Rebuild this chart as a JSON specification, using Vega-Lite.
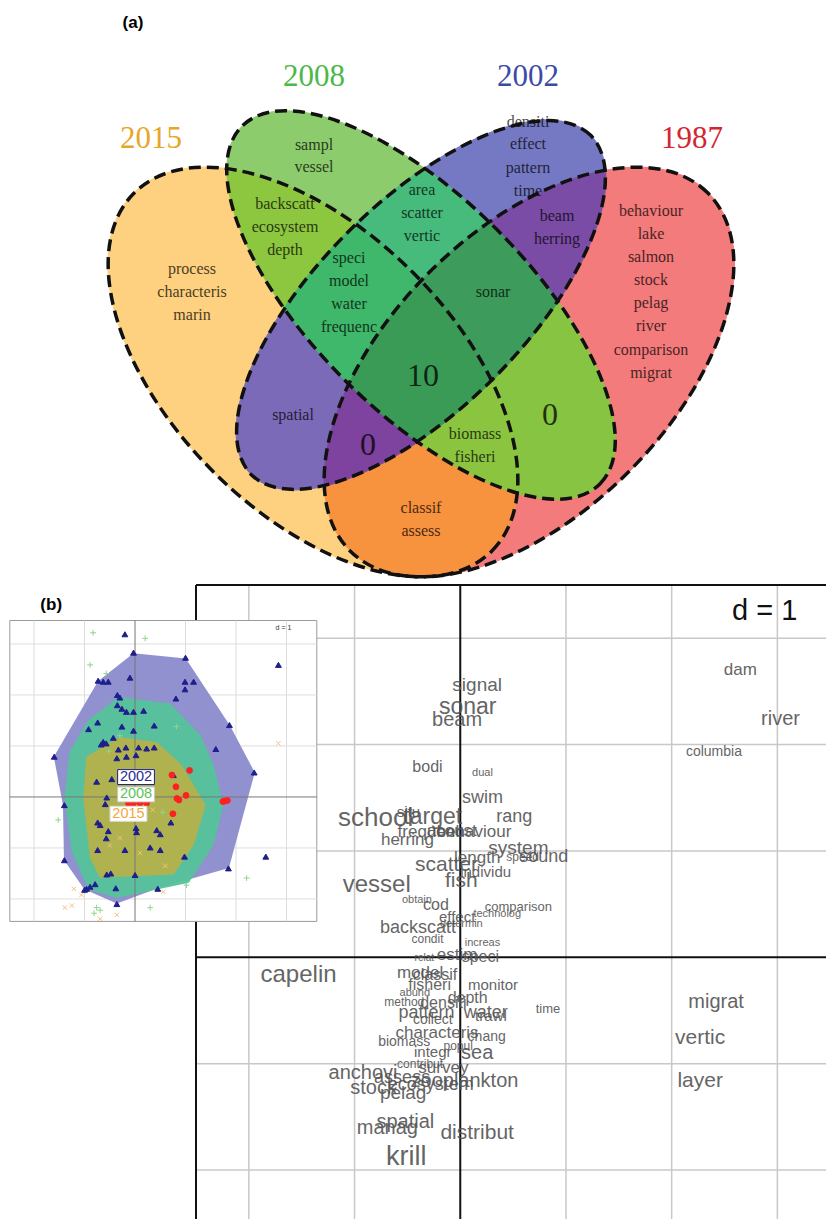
{
  "$schema": "https://vega.github.io/schema/vega-lite/v6.json",
  "background": "white",
  "padding": 0,
  "spacing": 0,
  "bounds": "flush",
  "config": {"view": {"stroke": null}},
  "vconcat": [
    {
      "width": 826,
      "height": 585,
      "resolve": {"scale": {"shape": "independent", "fill": "independent", "stroke": "independent", "color": "independent"}},
      "layer": [
        {
          "data": {"values": [{"region": "A"}, {"region": "B"}, {"region": "C"}, {"region": "D"}, {"region": "AB"}, {"region": "AC"}, {"region": "AD"}, {"region": "BC"}, {"region": "BD"}, {"region": "CD"}, {"region": "ABC"}, {"region": "ABD"}, {"region": "ACD"}, {"region": "BCD"}, {"region": "ABCD"}]},
          "mark": {"type": "point", "filled": true, "size": 40000, "opacity": 1, "strokeWidth": 1},
          "encoding": {
            "x": {"datum": 0, "type": "quantitative", "scale": {"domain": [-4.21, 4.05], "zero": false, "nice": false}, "axis": null},
            "y": {"datum": 0, "type": "quantitative", "scale": {"domain": [-2.8, 3.05], "zero": false, "nice": false}, "axis": null},
            "shape": {"field": "region", "type": "nominal", "legend": null, "scale": {
              "domain": ["A", "B", "C", "D", "AB", "AC", "AD", "BC", "BD", "CD", "ABC", "ABD", "ACD", "BCD", "ABCD"],
              "range": [
                "M-1.942 -1.364 A2.53 1.41 45 1 0 0 2.717 A2.53 1.41 -45 0 1 -0.967 1.812 A2.4 1.04 -45 0 1 -1.371 0.032 A2.53 1.07 45 0 1 -1.942 -1.364 Z",
                "M0.032 -1.371 A2.53 1.07 45 0 0 -1.942 -1.364 A2.53 1.41 45 0 1 -0.658 -0.812 A2.4 1.04 -45 0 1 0.032 -1.371 Z",
                "M0.682 -0.83 A2.53 1.07 45 0 0 0.032 -1.371 A2.4 1.04 -45 0 1 1.846 -1.348 A2.53 1.41 -45 0 0 0.682 -0.83 Z",
                "M0 2.717 A2.53 1.41 45 0 0 0.965 1.884 A2.53 1.07 45 0 0 1.371 -0.032 A2.4 1.04 -45 0 0 1.846 -1.348 A2.53 1.41 -45 1 1 0 2.717 Z",
                "M-1.942 -1.364 A2.53 1.41 45 0 1 -0.658 -0.812 A2.4 1.04 -45 0 0 -1.371 0.032 A2.53 1.07 45 0 1 -1.942 -1.364 Z",
                "M-1.371 0.032 A2.53 1.07 45 0 0 -0.722 0.791 A2.53 1.41 -45 0 0 -0.967 1.812 A2.4 1.04 -45 0 1 -1.371 0.032 Z",
                "M0 2.717 A2.53 1.41 45 0 0 0.965 1.884 A2.53 1.07 45 0 1 -0.032 1.371 A2.4 1.04 -45 0 1 -0.967 1.812 A2.53 1.41 -45 0 0 0 2.717 Z",
                "M0 -0.243 A2.53 1.41 45 0 0 -0.658 -0.812 A2.4 1.04 -45 0 1 0.032 -1.371 A2.53 1.07 45 0 1 0.682 -0.83 A2.53 1.41 -45 0 0 0 -0.243 Z",
                "M0.965 1.884 A2.53 1.41 45 0 0 0.709 0.762 A2.4 1.04 -45 0 0 1.371 -0.032 A2.53 1.07 45 0 1 0.965 1.884 Z",
                "M1.371 -0.032 A2.53 1.07 45 0 0 0.682 -0.83 A2.53 1.41 -45 0 1 1.846 -1.348 A2.4 1.04 -45 0 1 1.371 -0.032 Z",
                "M0 -0.243 A2.53 1.41 45 0 0 -0.658 -0.812 A2.4 1.04 -45 0 0 -1.371 0.032 A2.53 1.07 45 0 0 -0.722 0.791 A2.53 1.41 -45 0 1 0 -0.243 Z",
                "M0.965 1.884 A2.53 1.41 45 0 0 0.709 0.762 A2.4 1.04 -45 0 1 -0.032 1.371 A2.53 1.07 45 0 0 0.965 1.884 Z",
                "M-0.722 0.791 A2.53 1.07 45 0 0 -0.032 1.371 A2.4 1.04 -45 0 1 -0.967 1.812 A2.53 1.41 -45 0 1 -0.722 0.791 Z",
                "M0.709 0.762 A2.53 1.41 45 0 0 0 -0.243 A2.53 1.41 -45 0 1 0.682 -0.83 A2.53 1.07 45 0 1 1.371 -0.032 A2.4 1.04 -45 0 1 0.709 0.762 Z",
                "M0.709 0.762 A2.53 1.41 45 0 0 0 -0.243 A2.53 1.41 -45 0 0 -0.722 0.791 A2.53 1.07 45 0 0 -0.032 1.371 A2.4 1.04 -45 0 0 0.709 0.762 Z"
              ]}},
            "fill": {"field": "region", "type": "nominal", "legend": null, "scale": {
              "domain": ["A", "B", "C", "D", "AB", "AC", "AD", "BC", "BD", "CD", "ABC", "ABD", "ACD", "BCD", "ABCD"],
              "range": ["#fdd17f", "#8dcc6d", "#7579c3", "#f47b7c", "#8dc63f", "#7b6ab8", "#f7923f", "#46bb7c", "#86c441", "#7b4ca6", "#3fb86b", "#8bc540", "#7e429f", "#3d9c5c", "#3a9b56"]}},
            "stroke": {"field": "region", "type": "nominal", "legend": null, "scale": {
              "domain": ["A", "B", "C", "D", "AB", "AC", "AD", "BC", "BD", "CD", "ABC", "ABD", "ACD", "BCD", "ABCD"],
              "range": ["#fdd17f", "#8dcc6d", "#7579c3", "#f47b7c", "#8dc63f", "#7b6ab8", "#f7923f", "#46bb7c", "#86c441", "#7b4ca6", "#3fb86b", "#8bc540", "#7e429f", "#3d9c5c", "#3a9b56"]}}
          }
        },
        {
          "data": {"values": [
            {"t": "sampl", "x": -1.07, "y": 1.60}, {"t": "vessel", "x": -1.07, "y": 1.38},
            {"t": "backscatt", "x": -1.36, "y": 1.01}, {"t": "ecosystem", "x": -1.36, "y": 0.78}, {"t": "depth", "x": -1.36, "y": 0.55},
            {"t": "process", "x": -2.29, "y": 0.36}, {"t": "characteris", "x": -2.29, "y": 0.13}, {"t": "marin", "x": -2.29, "y": -0.10},
            {"t": "speci", "x": -0.72, "y": 0.47}, {"t": "model", "x": -0.72, "y": 0.24}, {"t": "water", "x": -0.72, "y": 0.01}, {"t": "frequenc", "x": -0.72, "y": -0.22},
            {"t": "area", "x": 0.01, "y": 1.15}, {"t": "scatter", "x": 0.01, "y": 0.92}, {"t": "vertic", "x": 0.01, "y": 0.69},
            {"t": "densiti", "x": 1.07, "y": 1.83}, {"t": "effect", "x": 1.07, "y": 1.61}, {"t": "pattern", "x": 1.07, "y": 1.37}, {"t": "time", "x": 1.07, "y": 1.14},
            {"t": "beam", "x": 1.36, "y": 0.89}, {"t": "herring", "x": 1.36, "y": 0.66},
            {"t": "behaviour", "x": 2.30, "y": 0.94}, {"t": "lake", "x": 2.30, "y": 0.71}, {"t": "salmon", "x": 2.30, "y": 0.48}, {"t": "stock", "x": 2.30, "y": 0.25},
            {"t": "pelag", "x": 2.30, "y": 0.02}, {"t": "river", "x": 2.30, "y": -0.21}, {"t": "comparison", "x": 2.30, "y": -0.45}, {"t": "migrat", "x": 2.30, "y": -0.68},
            {"t": "sonar", "x": 0.72, "y": 0.13},
            {"t": "spatial", "x": -1.28, "y": -1.10},
            {"t": "biomass", "x": 0.54, "y": -1.29}, {"t": "fisheri", "x": 0.54, "y": -1.52},
            {"t": "classif", "x": 0, "y": -2.03}, {"t": "assess", "x": 0, "y": -2.26}
          ]},
          "mark": {"type": "text", "font": "Liberation Serif", "fontSize": 16, "color": "#000000", "opacity": 0.72, "align": "center", "baseline": "middle"},
          "encoding": {
            "x": {"field": "x", "type": "quantitative", "scale": {"domain": [-4.21, 4.05], "zero": false, "nice": false}, "axis": null},
            "y": {"field": "y", "type": "quantitative", "scale": {"domain": [-2.8, 3.05], "zero": false, "nice": false}, "axis": null},
            "text": {"field": "t"}
          }
        },
        {
          "data": {"values": [{"t": "10", "x": 0.02, "y": -0.71}, {"t": "0", "x": -0.53, "y": -1.40}, {"t": "0", "x": 1.29, "y": -1.10}]},
          "mark": {"type": "text", "font": "Liberation Serif", "fontSize": 32, "color": "#000000", "opacity": 0.75, "align": "center", "baseline": "middle"},
          "encoding": {
            "x": {"field": "x", "type": "quantitative", "scale": {"domain": [-4.21, 4.05], "zero": false, "nice": false}, "axis": null},
            "y": {"field": "y", "type": "quantitative", "scale": {"domain": [-2.8, 3.05], "zero": false, "nice": false}, "axis": null},
            "text": {"field": "t"}
          }
        },
        {
          "data": {"values": [{"t": "2015", "x": -2.70, "y": 1.66}, {"t": "2008", "x": -1.07, "y": 2.28}, {"t": "2002", "x": 1.07, "y": 2.28}, {"t": "1987", "x": 2.71, "y": 1.66}]},
          "mark": {"type": "text", "font": "Liberation Serif", "fontSize": 31, "align": "center", "baseline": "middle"},
          "encoding": {
            "x": {"field": "x", "type": "quantitative", "scale": {"domain": [-4.21, 4.05], "zero": false, "nice": false}, "axis": null},
            "y": {"field": "y", "type": "quantitative", "scale": {"domain": [-2.8, 3.05], "zero": false, "nice": false}, "axis": null},
            "text": {"field": "t"},
            "color": {"field": "t", "type": "nominal", "legend": null, "scale": {"domain": ["2015", "2008", "2002", "1987"], "range": ["#e8a628", "#4cb848", "#3c4aa6", "#d22630"]}}
          }
        },
        {
          "data": {"values": [{"t": "(a)", "x": -2.88, "y": 2.82}]},
          "mark": {"type": "text", "font": "Liberation Sans", "fontSize": 17, "fontWeight": "bold", "color": "#000000", "align": "center", "baseline": "middle"},
          "encoding": {
            "x": {"field": "x", "type": "quantitative", "scale": {"domain": [-4.21, 4.05], "zero": false, "nice": false}, "axis": null},
            "y": {"field": "y", "type": "quantitative", "scale": {"domain": [-2.8, 3.05], "zero": false, "nice": false}, "axis": null},
            "text": {"field": "t"}
          }
        },
        {
          "data": {"values": [{"set": "2015"}, {"set": "2008"}, {"set": "2002"}, {"set": "1987"}]},
          "mark": {"type": "point", "filled": false, "size": 40000, "opacity": 1, "stroke": "#111111", "strokeWidth": 3.5, "strokeDash": [12, 6]},
          "encoding": {
            "x": {"datum": 0, "type": "quantitative", "scale": {"domain": [-4.21, 4.05], "zero": false, "nice": false}, "axis": null},
            "y": {"datum": 0, "type": "quantitative", "scale": {"domain": [-2.8, 3.05], "zero": false, "nice": false}, "axis": null},
            "shape": {"field": "set", "type": "nominal", "legend": null, "scale": {
              "domain": ["2015", "2008", "2002", "1987"],
              "range": [
                "M0.709 2.459 A2.53 1.41 45 0 0 -2.869 -1.119 A2.53 1.41 45 0 0 0.709 2.459 Z",
                "M1.789 1.789 A2.53 1.07 45 0 0 -1.789 -1.789 A2.53 1.07 45 0 0 1.789 1.789 Z",
                "M1.697 -1.697 A2.4 1.04 -45 0 0 -1.697 1.697 A2.4 1.04 -45 0 0 1.697 -1.697 Z",
                "M2.869 -1.119 A2.53 1.41 -45 0 0 -0.709 2.459 A2.53 1.41 -45 0 0 2.869 -1.119 Z"
              ]}}
          }
        }
      ]
    },
    {
      "width": 826,
      "height": 634,
      "resolve": {"scale": {"x": "independent", "y": "independent", "shape": "independent", "fill": "independent", "stroke": "independent", "color": "independent", "size": "independent"}},
      "layer": [
        {
          "layer": [
            {
              "data": {"values": [{"g": -2}, {"g": -1}, {"g": 1}, {"g": 2}, {"g": 3}]},
              "mark": {"type": "rule", "color": "#c8c8c8", "strokeWidth": 1.5},
              "encoding": {"x": {"field": "g", "type": "quantitative", "scale": {"domain": [-2.5, 3.46], "range": [196, 826], "zero": false, "nice": false}, "axis": null}}
            },
            {
              "data": {"values": [{"g": -2}, {"g": -1}, {"g": 1}, {"g": 2}, {"g": 3}]},
              "mark": {"type": "rule", "color": "#c8c8c8", "strokeWidth": 1.5},
              "encoding": {
                "y": {"field": "g", "type": "quantitative", "scale": {"domain": [-2.46, 3.5], "zero": false, "nice": false}, "axis": null},
                "x": {"datum": -2.5, "type": "quantitative", "scale": {"domain": [-2.5, 3.46], "range": [196, 826], "zero": false, "nice": false}, "axis": null},
                "x2": {"datum": 3.46}
              }
            },
            {
              "data": {"values": [{"g": 0}, {"g": -2.5}]},
              "mark": {"type": "rule", "color": "#111111", "strokeWidth": 2},
              "encoding": {"x": {"field": "g", "type": "quantitative", "scale": {"domain": [-2.5, 3.46], "range": [196, 826], "zero": false, "nice": false}, "axis": null}}
            },
            {
              "data": {"values": [{"g": 0}, {"g": 3.5}]},
              "mark": {"type": "rule", "color": "#111111", "strokeWidth": 2},
              "encoding": {
                "y": {"field": "g", "type": "quantitative", "scale": {"domain": [-2.46, 3.5], "zero": false, "nice": false}, "axis": null},
                "x": {"datum": -2.5, "type": "quantitative", "scale": {"domain": [-2.5, 3.46], "range": [196, 826], "zero": false, "nice": false}, "axis": null},
                "x2": {"datum": 3.46}
              }
            },
            {
              "data": {"values": [
                {"t": "signal", "x": 0.16, "y": 2.56, "f": 19}, {"t": "sonar", "x": 0.07, "y": 2.35, "f": 23}, {"t": "beam", "x": -0.03, "y": 2.23, "f": 20},
                {"t": "bodi", "x": -0.31, "y": 1.79, "f": 16}, {"t": "dual", "x": 0.21, "y": 1.73, "f": 11}, {"t": "swim", "x": 0.21, "y": 1.50, "f": 18},
                {"t": "situ", "x": -0.49, "y": 1.37, "f": 15}, {"t": "target", "x": -0.26, "y": 1.32, "f": 23}, {"t": "school", "x": -0.80, "y": 1.31, "f": 26},
                {"t": "rang", "x": 0.51, "y": 1.32, "f": 18}, {"t": "frequenc", "x": -0.28, "y": 1.18, "f": 17}, {"t": "acoust", "x": -0.08, "y": 1.19, "f": 17},
                {"t": "behaviour", "x": 0.13, "y": 1.18, "f": 17}, {"t": "herring", "x": -0.50, "y": 1.10, "f": 17}, {"t": "system", "x": 0.55, "y": 1.03, "f": 19},
                {"t": "length", "x": 0.16, "y": 0.93, "f": 17}, {"t": "speed", "x": 0.59, "y": 0.94, "f": 12}, {"t": "sound", "x": 0.79, "y": 0.94, "f": 18},
                {"t": "scatter", "x": -0.13, "y": 0.87, "f": 21}, {"t": "individu", "x": 0.24, "y": 0.80, "f": 15}, {"t": "fish", "x": 0.01, "y": 0.72, "f": 21},
                {"t": "vessel", "x": -0.79, "y": 0.68, "f": 24}, {"t": "obtain", "x": -0.41, "y": 0.54, "f": 11}, {"t": "cod", "x": -0.23, "y": 0.49, "f": 16},
                {"t": "comparison", "x": 0.55, "y": 0.47, "f": 13}, {"t": "effect", "x": -0.03, "y": 0.38, "f": 15}, {"t": "technolog", "x": 0.35, "y": 0.41, "f": 11},
                {"t": "backscatt", "x": -0.40, "y": 0.28, "f": 18}, {"t": "determin", "x": 0.01, "y": 0.31, "f": 11}, {"t": "condit", "x": -0.31, "y": 0.17, "f": 12},
                {"t": "increas", "x": 0.21, "y": 0.13, "f": 11}, {"t": "relat", "x": -0.34, "y": -0.01, "f": 10}, {"t": "estim", "x": -0.03, "y": 0.02, "f": 17},
                {"t": "speci", "x": 0.19, "y": 0.0, "f": 16}, {"t": "capelin", "x": -1.53, "y": -0.17, "f": 24}, {"t": "model", "x": -0.38, "y": -0.15, "f": 17},
                {"t": "classif", "x": -0.24, "y": -0.17, "f": 16}, {"t": "fisheri", "x": -0.29, "y": -0.26, "f": 16}, {"t": "monitor", "x": 0.31, "y": -0.26, "f": 15},
                {"t": "abund", "x": -0.43, "y": -0.34, "f": 11}, {"t": "depth", "x": 0.07, "y": -0.38, "f": 16}, {"t": "method", "x": -0.53, "y": -0.42, "f": 12},
                {"t": "densiti", "x": -0.16, "y": -0.43, "f": 16}, {"t": "pattern", "x": -0.32, "y": -0.52, "f": 18}, {"t": "water", "x": 0.24, "y": -0.52, "f": 18},
                {"t": "trawl", "x": 0.29, "y": -0.55, "f": 15}, {"t": "time", "x": 0.83, "y": -0.49, "f": 13}, {"t": "collect", "x": -0.26, "y": -0.59, "f": 14},
                {"t": "characteris", "x": -0.22, "y": -0.71, "f": 17}, {"t": "chang", "x": 0.25, "y": -0.75, "f": 14}, {"t": "biomass", "x": -0.53, "y": -0.80, "f": 14},
                {"t": "integr", "x": -0.26, "y": -0.89, "f": 15}, {"t": "popul", "x": -0.02, "y": -0.83, "f": 12}, {"t": "sea", "x": 0.16, "y": -0.90, "f": 20},
                {"t": "contribut", "x": -0.38, "y": -1.00, "f": 12}, {"t": "survey", "x": -0.16, "y": -1.04, "f": 17}, {"t": "anchovi", "x": -0.92, "y": -1.09, "f": 20},
                {"t": "assess", "x": -0.55, "y": -1.13, "f": 18}, {"t": "zooplankton", "x": 0.04, "y": -1.16, "f": 20}, {"t": "ecosystem", "x": -0.28, "y": -1.20, "f": 18},
                {"t": "stock", "x": -0.82, "y": -1.23, "f": 20}, {"t": "pelag", "x": -0.54, "y": -1.28, "f": 19}, {"t": "spatial", "x": -0.52, "y": -1.55, "f": 20},
                {"t": "manag", "x": -0.69, "y": -1.60, "f": 20}, {"t": "distribut", "x": 0.16, "y": -1.65, "f": 21}, {"t": "krill", "x": -0.51, "y": -1.88, "f": 27},
                {"t": "dam", "x": 2.65, "y": 2.70, "f": 17}, {"t": "river", "x": 3.03, "y": 2.24, "f": 20}, {"t": "columbia", "x": 2.40, "y": 1.93, "f": 14},
                {"t": "migrat", "x": 2.42, "y": -0.42, "f": 20}, {"t": "vertic", "x": 2.27, "y": -0.76, "f": 21}, {"t": "layer", "x": 2.27, "y": -1.16, "f": 21}
              ]},
              "mark": {"type": "text", "font": "Liberation Sans", "color": "#555555", "opacity": 0.9, "align": "center", "baseline": "middle"},
              "encoding": {
                "x": {"field": "x", "type": "quantitative", "scale": {"domain": [-2.5, 3.46], "range": [196, 826], "zero": false, "nice": false}, "axis": null},
                "y": {"field": "y", "type": "quantitative", "scale": {"domain": [-2.46, 3.5], "zero": false, "nice": false}, "axis": null},
                "text": {"field": "t"},
                "size": {"field": "f", "type": "quantitative", "legend": null, "scale": {"domain": [10, 30], "range": [10, 30], "zero": false}}
              }
            },
            {
              "data": {"values": [{"t": "d = 1", "x": 2.88, "y": 3.26}]},
              "mark": {"type": "text", "font": "Liberation Sans", "fontSize": 29, "color": "#111111", "align": "center", "baseline": "middle"},
              "encoding": {
                "x": {"field": "x", "type": "quantitative", "scale": {"domain": [-2.5, 3.46], "range": [196, 826], "zero": false, "nice": false}, "axis": null},
                "y": {"field": "y", "type": "quantitative", "scale": {"domain": [-2.46, 3.5], "zero": false, "nice": false}, "axis": null},
                "text": {"field": "t"}
              }
            }
          ]
        },
        {
          "resolve": {"scale": {"shape": "independent", "fill": "independent", "stroke": "independent", "color": "independent"}},
          "layer": [
            {
              "data": {"values": [{"k": "frame"}]},
              "mark": {"type": "rect", "fill": "white", "stroke": "#9a9a9a", "strokeWidth": 1},
              "encoding": {
                "x": {"datum": -2.48, "type": "quantitative", "scale": {"domain": [-2.48, 3.6], "range": [9.8, 316.8], "zero": false, "nice": false}, "axis": null},
                "x2": {"datum": 3.6},
                "y": {"datum": -2.44, "type": "quantitative", "scale": {"domain": [-2.44, 3.46], "range": [336.4, 35.5], "zero": false, "nice": false}, "axis": null},
                "y2": {"datum": 3.46}
              }
            },
            {
              "data": {"values": [{"g": -2}, {"g": -1}, {"g": 1}, {"g": 2}, {"g": 3}]},
              "mark": {"type": "rule", "color": "#dddddd", "strokeWidth": 1},
              "encoding": {
                "x": {"field": "g", "type": "quantitative", "scale": {"domain": [-2.48, 3.6], "range": [9.8, 316.8], "zero": false, "nice": false}, "axis": null},
                "y": {"datum": -2.44, "type": "quantitative", "scale": {"domain": [-2.44, 3.46], "range": [336.4, 35.5], "zero": false, "nice": false}, "axis": null},
                "y2": {"datum": 3.46}
              }
            },
            {
              "data": {"values": [{"g": -2}, {"g": -1}, {"g": 1}, {"g": 2}, {"g": 3}]},
              "mark": {"type": "rule", "color": "#dddddd", "strokeWidth": 1},
              "encoding": {
                "y": {"field": "g", "type": "quantitative", "scale": {"domain": [-2.44, 3.46], "range": [336.4, 35.5], "zero": false, "nice": false}, "axis": null},
                "x": {"datum": -2.48, "type": "quantitative", "scale": {"domain": [-2.48, 3.6], "range": [9.8, 316.8], "zero": false, "nice": false}, "axis": null},
                "x2": {"datum": 3.6}
              }
            },
            {
              "data": {"values": [{"yr": "2002"}, {"yr": "2008"}, {"yr": "2015"}]},
              "mark": {"type": "point", "filled": true, "size": 10302, "opacity": 0.95, "strokeWidth": 0},
              "encoding": {
                "x": {"datum": 0, "type": "quantitative", "scale": {"domain": [-2.48, 3.6], "range": [9.8, 316.8], "zero": false, "nice": false}, "axis": null},
                "y": {"datum": 0, "type": "quantitative", "scale": {"domain": [-2.44, 3.46], "range": [336.4, 35.5], "zero": false, "nice": false}, "axis": null},
                "shape": {"field": "yr", "type": "nominal", "legend": null, "scale": {
                  "domain": ["2002", "2008", "2015"],
                  "range": [
                    "M-0.03 -2.83 L1 -2.73 L1.87 -1.41 L2.36 -0.48 L1.85 1.4 L0.45 1.8 L-0.36 2.1 L-1 1.82 L-1.4 1.24 L-1.42 0.16 L-1.6 -0.79 L-0.73 -2.28 Z",
                    "M-0.33 -1.97 L0.69 -1.84 L1.29 -1.22 L1.55 -0.63 L1.74 0.16 L1.55 0.94 L1.06 1.69 L-0.36 1.99 L-0.92 1.82 L-1.25 1.07 L-1.39 0.03 L-1.29 -0.89 L-0.92 -1.51 Z",
                    "M-0.96 -0.79 L-0.3 -1.18 L0.43 -1.08 L0.92 -0.63 L1.39 0.16 L1.16 0.94 L0.76 1.53 L-0.69 1.59 L-0.89 1.2 L-1.02 0.03 Z"
                  ]}},
                "fill": {"field": "yr", "type": "nominal", "legend": null, "scale": {"domain": ["2002", "2008", "2015"], "range": ["#8a8bcb", "#55c39a", "#b4b14b"]}}
              }
            },
            {
              "data": {"values": [{"g": 0}]},
              "mark": {"type": "rule", "color": "#777777", "strokeWidth": 1},
              "encoding": {
                "x": {"field": "g", "type": "quantitative", "scale": {"domain": [-2.48, 3.6], "range": [9.8, 316.8], "zero": false, "nice": false}, "axis": null},
                "y": {"datum": -2.44, "type": "quantitative", "scale": {"domain": [-2.44, 3.46], "range": [336.4, 35.5], "zero": false, "nice": false}, "axis": null},
                "y2": {"datum": 3.46}
              }
            },
            {
              "data": {"values": [{"g": 0}]},
              "mark": {"type": "rule", "color": "#777777", "strokeWidth": 1},
              "encoding": {
                "y": {"field": "g", "type": "quantitative", "scale": {"domain": [-2.44, 3.46], "range": [336.4, 35.5], "zero": false, "nice": false}, "axis": null},
                "x": {"datum": -2.48, "type": "quantitative", "scale": {"domain": [-2.48, 3.6], "range": [9.8, 316.8], "zero": false, "nice": false}, "axis": null},
                "x2": {"datum": 3.6}
              }
            },
            {
              "data": {"values": [
                {"yr": "2008", "u": -0.83, "v": 3.22}, {"yr": "2008", "u": 0.20, "v": 3.11}, {"yr": "2008", "u": -0.89, "v": 2.59}, {"yr": "2008", "u": -0.57, "v": 2.42},
                {"yr": "2008", "u": 2.21, "v": -1.59}, {"yr": "2008", "u": 0.30, "v": -2.17}, {"yr": "2008", "u": -0.76, "v": -2.17}, {"yr": "2008", "u": -0.69, "v": -2.22},
                {"yr": "2008", "u": -0.81, "v": -2.28}, {"yr": "2008", "u": -1.52, "v": -0.45}, {"yr": "2008", "u": -0.99, "v": -1.84}, {"yr": "2008", "u": 1.02, "v": -1.73},
                {"yr": "2008", "u": 0.82, "v": 1.38}, {"yr": "2008", "u": -0.52, "v": 0.90}, {"yr": "2008", "u": 0.55, "v": -0.30}, {"yr": "2008", "u": -0.30, "v": 1.20},
                {"yr": "2015", "u": 2.84, "v": 1.05}, {"yr": "2015", "u": -1.21, "v": -1.80}, {"yr": "2015", "u": -1.39, "v": -2.17}, {"yr": "2015", "u": -1.25, "v": -2.13},
                {"yr": "2015", "u": -0.36, "v": -2.31}, {"yr": "2015", "u": -0.69, "v": -2.39}, {"yr": "2015", "u": 0.56, "v": -1.86}, {"yr": "2015", "u": -1.06, "v": -1.92},
                {"yr": "2015", "u": -0.50, "v": -0.95}, {"yr": "2015", "u": -0.30, "v": -0.80}, {"yr": "2015", "u": 0.10, "v": -1.10}, {"yr": "2015", "u": 0.60, "v": -1.35},
                {"yr": "2015", "u": -0.15, "v": -0.45}, {"yr": "2015", "u": 0.35, "v": -0.25},
                {"yr": "2002", "u": -0.20, "v": 3.19}, {"yr": "2002", "u": -0.03, "v": 2.83}, {"yr": "2002", "u": 1.00, "v": 2.73}, {"yr": "2002", "u": 2.84, "v": 2.59},
                {"yr": "2002", "u": -0.73, "v": 2.28}, {"yr": "2002", "u": -0.63, "v": 2.26}, {"yr": "2002", "u": -0.53, "v": 2.26}, {"yr": "2002", "u": -0.10, "v": 2.34},
                {"yr": "2002", "u": 0.99, "v": 2.26}, {"yr": "2002", "u": 1.16, "v": 2.26}, {"yr": "2002", "u": 0.99, "v": 2.11}, {"yr": "2002", "u": 0.81, "v": 1.93},
                {"yr": "2002", "u": -0.35, "v": 2.00}, {"yr": "2002", "u": -0.30, "v": 1.95}, {"yr": "2002", "u": -0.35, "v": 1.80}, {"yr": "2002", "u": -0.26, "v": 1.73},
                {"yr": "2002", "u": -0.17, "v": 1.67}, {"yr": "2002", "u": -0.03, "v": 1.67}, {"yr": "2002", "u": 0.17, "v": 1.69}, {"yr": "2002", "u": -0.74, "v": 1.46},
                {"yr": "2002", "u": -0.92, "v": 1.33}, {"yr": "2002", "u": -0.26, "v": 1.38}, {"yr": "2002", "u": -0.03, "v": 1.30}, {"yr": "2002", "u": 0.38, "v": 1.40},
                {"yr": "2002", "u": 1.87, "v": 1.41}, {"yr": "2002", "u": -0.63, "v": 1.08}, {"yr": "2002", "u": -0.67, "v": 1.03}, {"yr": "2002", "u": -0.57, "v": 1.05},
                {"yr": "2002", "u": -0.43, "v": 1.16}, {"yr": "2002", "u": -0.33, "v": 0.93}, {"yr": "2002", "u": -0.18, "v": 0.97}, {"yr": "2002", "u": 0.07, "v": 0.97},
                {"yr": "2002", "u": 0.23, "v": 0.95}, {"yr": "2002", "u": 0.38, "v": 0.97}, {"yr": "2002", "u": -0.36, "v": 0.76}, {"yr": "2002", "u": -0.17, "v": 0.79},
                {"yr": "2002", "u": 0.02, "v": 0.82}, {"yr": "2002", "u": -1.60, "v": 0.79}, {"yr": "2002", "u": 1.60, "v": 0.94}, {"yr": "2002", "u": 2.36, "v": 0.48},
                {"yr": "2002", "u": 0.76, "v": 0.43}, {"yr": "2002", "u": -0.76, "v": 0.30}, {"yr": "2002", "u": -0.46, "v": 0.35}, {"yr": "2002", "u": -0.56, "v": -0.01},
                {"yr": "2002", "u": -1.40, "v": -0.16}, {"yr": "2002", "u": -0.59, "v": -0.14}, {"yr": "2002", "u": -0.74, "v": -0.50}, {"yr": "2002", "u": -0.69, "v": -0.55},
                {"yr": "2002", "u": -0.53, "v": -0.67}, {"yr": "2002", "u": 0.02, "v": -0.61}, {"yr": "2002", "u": 0.03, "v": -0.69}, {"yr": "2002", "u": 0.43, "v": -0.65},
                {"yr": "2002", "u": 0.50, "v": -0.73}, {"yr": "2002", "u": 0.71, "v": -0.50}, {"yr": "2002", "u": -0.57, "v": -0.81}, {"yr": "2002", "u": -0.20, "v": -1.04},
                {"yr": "2002", "u": -0.74, "v": -1.04}, {"yr": "2002", "u": 0.30, "v": -0.99}, {"yr": "2002", "u": 0.50, "v": -1.04}, {"yr": "2002", "u": -1.40, "v": -1.24},
                {"yr": "2002", "u": 0.98, "v": -1.17}, {"yr": "2002", "u": 2.59, "v": -1.17}, {"yr": "2002", "u": 1.85, "v": -1.40}, {"yr": "2002", "u": -0.56, "v": -1.52},
                {"yr": "2002", "u": -0.48, "v": -1.50}, {"yr": "2002", "u": 0.00, "v": -1.53}, {"yr": "2002", "u": -0.89, "v": -1.76}, {"yr": "2002", "u": -0.96, "v": -1.80},
                {"yr": "2002", "u": -0.79, "v": -1.71}, {"yr": "2002", "u": -0.38, "v": -1.79}, {"yr": "2002", "u": 0.45, "v": -1.80}, {"yr": "2002", "u": -0.36, "v": -2.10},
                {"yr": "2002", "u": -1.00, "v": -1.82},
                {"yr": "1987", "u": 0.73, "v": 0.43}, {"yr": "1987", "u": 1.08, "v": 0.52}, {"yr": "1987", "u": 0.81, "v": 0.20}, {"yr": "1987", "u": 0.83, "v": -0.03},
                {"yr": "1987", "u": 0.87, "v": -0.06}, {"yr": "1987", "u": 1.01, "v": 0.03}, {"yr": "1987", "u": 0.75, "v": -0.33}, {"yr": "1987", "u": 1.74, "v": -0.09},
                {"yr": "1987", "u": 1.78, "v": -0.08}, {"yr": "1987", "u": 1.83, "v": -0.07}, {"yr": "1987", "u": -0.13, "v": -0.12}, {"yr": "1987", "u": -0.03, "v": -0.12},
                {"yr": "1987", "u": 0.10, "v": -0.12}, {"yr": "1987", "u": 0.23, "v": -0.12}
              ]},
              "mark": {"type": "point", "filled": true, "size": 34, "opacity": 1, "strokeWidth": 1},
              "encoding": {
                "x": {"field": "u", "type": "quantitative", "scale": {"domain": [-2.48, 3.6], "range": [9.8, 316.8], "zero": false, "nice": false}, "axis": null},
                "y": {"field": "v", "type": "quantitative", "scale": {"domain": [-2.44, 3.46], "range": [336.4, 35.5], "zero": false, "nice": false}, "axis": null},
                "shape": {"field": "yr", "type": "nominal", "legend": null, "scale": {"domain": ["1987", "2002", "2008", "2015"], "range": ["circle", "triangle-up", "M-1 0 H1 M0 -1 V1", "M-0.75 -0.75 L0.75 0.75 M-0.75 0.75 L0.75 -0.75"]}},
                "fill": {"field": "yr", "type": "nominal", "legend": null, "scale": {"domain": ["1987", "2002", "2008", "2015"], "range": ["#ff2020", "#1e1e8c", "#8fd68f", "#f5c07a"]}},
                "stroke": {"field": "yr", "type": "nominal", "legend": null, "scale": {"domain": ["1987", "2002", "2008", "2015"], "range": ["#ff2020", "#1e1e8c", "#8fd68f", "#f5c07a"]}}
              }
            },
            {
              "data": {"values": [{"yr": "2002", "u": 0.02, "v": 0.39}, {"yr": "2008", "u": 0.02, "v": 0.05}, {"yr": "2015", "u": -0.13, "v": -0.33}]},
              "mark": {"type": "point", "filled": true, "fill": "white", "shape": "M-1.6 -0.65 H1.6 V0.65 H-1.6 Z", "size": 529, "opacity": 1, "strokeWidth": 1},
              "encoding": {
                "x": {"field": "u", "type": "quantitative", "scale": {"domain": [-2.48, 3.6], "range": [9.8, 316.8], "zero": false, "nice": false}, "axis": null},
                "y": {"field": "v", "type": "quantitative", "scale": {"domain": [-2.44, 3.46], "range": [336.4, 35.5], "zero": false, "nice": false}, "axis": null},
                "stroke": {"field": "yr", "type": "nominal", "legend": null, "scale": {"domain": ["2002", "2008", "2015"], "range": ["#1e1e8c", "#c8c8c8", "#dddddd"]}}
              }
            },
            {
              "data": {"values": [{"yr": "2002", "u": 0.02, "v": 0.39}, {"yr": "2008", "u": 0.02, "v": 0.05}, {"yr": "2015", "u": -0.13, "v": -0.33}]},
              "mark": {"type": "text", "font": "Liberation Sans", "fontSize": 14.5, "align": "center", "baseline": "middle"},
              "encoding": {
                "x": {"field": "u", "type": "quantitative", "scale": {"domain": [-2.48, 3.6], "range": [9.8, 316.8], "zero": false, "nice": false}, "axis": null},
                "y": {"field": "v", "type": "quantitative", "scale": {"domain": [-2.44, 3.46], "range": [336.4, 35.5], "zero": false, "nice": false}, "axis": null},
                "text": {"field": "yr"},
                "color": {"field": "yr", "type": "nominal", "legend": null, "scale": {"domain": ["2002", "2008", "2015"], "range": ["#2a2a90", "#5cc35c", "#f0a83c"]}}
              }
            },
            {
              "data": {"values": [{"t": "d = 1", "u": 2.94, "v": 3.31}]},
              "mark": {"type": "text", "font": "Liberation Sans", "fontSize": 7, "color": "#333333", "align": "center", "baseline": "middle"},
              "encoding": {
                "x": {"field": "u", "type": "quantitative", "scale": {"domain": [-2.48, 3.6], "range": [9.8, 316.8], "zero": false, "nice": false}, "axis": null},
                "y": {"field": "v", "type": "quantitative", "scale": {"domain": [-2.44, 3.46], "range": [336.4, 35.5], "zero": false, "nice": false}, "axis": null},
                "text": {"field": "t"}
              }
            },
            {
              "data": {"values": [{"t": "(b)", "u": -1.66, "v": 3.76}]},
              "mark": {"type": "text", "font": "Liberation Sans", "fontSize": 17, "fontWeight": "bold", "color": "#000000", "align": "center", "baseline": "middle"},
              "encoding": {
                "x": {"field": "u", "type": "quantitative", "scale": {"domain": [-2.48, 3.6], "range": [9.8, 316.8], "zero": false, "nice": false}, "axis": null},
                "y": {"field": "v", "type": "quantitative", "scale": {"domain": [-2.44, 3.46], "range": [336.4, 35.5], "zero": false, "nice": false}, "axis": null},
                "text": {"field": "t"}
              }
            }
          ]
        }
      ]
    }
  ]
}
